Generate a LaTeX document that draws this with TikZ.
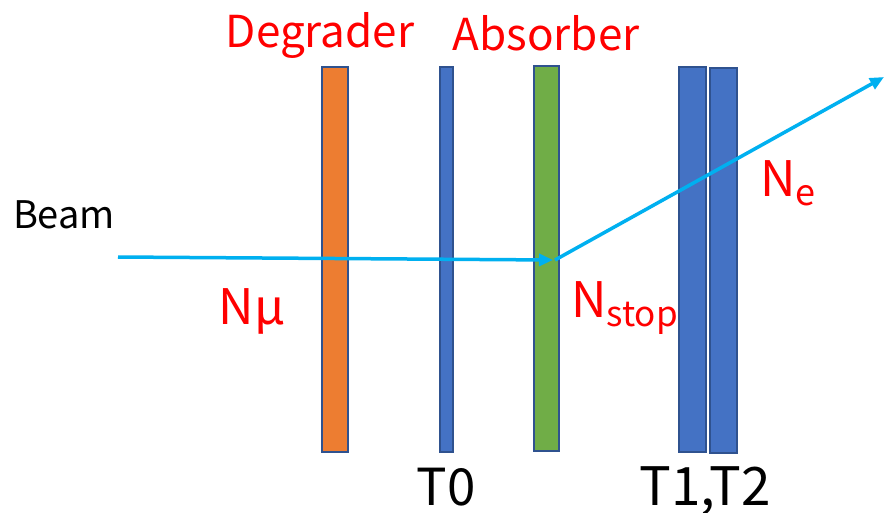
\documentclass[tikz,border=0pt]{standalone}
\usepackage{fontspec}
\setmainfont{Noto Sans CJK JP}
\usetikzlibrary{arrows.meta}
\definecolor{orng}{HTML}{ED7D31}
\definecolor{blu}{HTML}{4472C4}
\definecolor{grn}{HTML}{70AD47}
\definecolor{edge}{HTML}{2F528F}
\definecolor{beamc}{HTML}{00B0F0}
\tikzset{
  plate/.style={draw=edge, line width=1.5pt},
  lbl/.style={text=red, inner sep=0pt, anchor=base},
  blk/.style={text=black, inner sep=0pt, anchor=base},
  ray/.style={draw=beamc, line width=3.5pt, -{Triangle[length=14pt,width=12pt]}}
}
\begin{document}
\begin{tikzpicture}[x=1pt,y=-1pt]
\useasboundingbox (0,0) rectangle (884,512);
\fill[white] (0,0) rectangle (884,512);
% plates
\filldraw[plate, fill=orng] (322,67) rectangle (348,452);
\filldraw[plate, fill=blu] (440,67) rectangle (453,452);
\filldraw[plate, fill=grn] (534,66) rectangle (559,451);
\filldraw[plate, fill=blu] (679,67) rectangle (706,452);
\filldraw[plate, fill=blu] (710,68) rectangle (737,453);
% rays
\coordinate (b0) at (118,257);
\coordinate (stop) at (553,260);
\coordinate (s1) at (555,260);
\coordinate (out) at (884,77);
\draw[ray] (b0) -- (stop);
\draw[ray] (s1) -- (out);
% labels
\node[lbl, font=\fontsize{44}{44}\selectfont] (deg) at (320,47) {Degrader};
\node[lbl, font=\fontsize{44}{44}\selectfont] (abs) at (546,50) {Absorber};
\node[blk, font=\fontsize{38}{38}\selectfont] (beam) at (64,228) {Beam};
\node[lbl, font=\fontsize{49}{49}\selectfont] (nmu) at (252,324) {N\char"03BC};
\node[lbl, font=\fontsize{49}{49}\selectfont, anchor=base west] (nstop) at (571,317) {N\raisebox{-9pt}{\fontsize{35}{35}\selectfont stop}};
\node[lbl, font=\fontsize{49}{49}\selectfont, anchor=base west] (ne) at (760,196) {N\raisebox{-9pt}{\fontsize{36}{36}\selectfont e}};
\node[blk, font=\fontsize{51}{51}\selectfont] (t0) at (446,505) {T0};
\node[blk, font=\fontsize{53}{53}\selectfont] (t12) at (705,505) {T1,T2};
\end{tikzpicture}
\end{document}
